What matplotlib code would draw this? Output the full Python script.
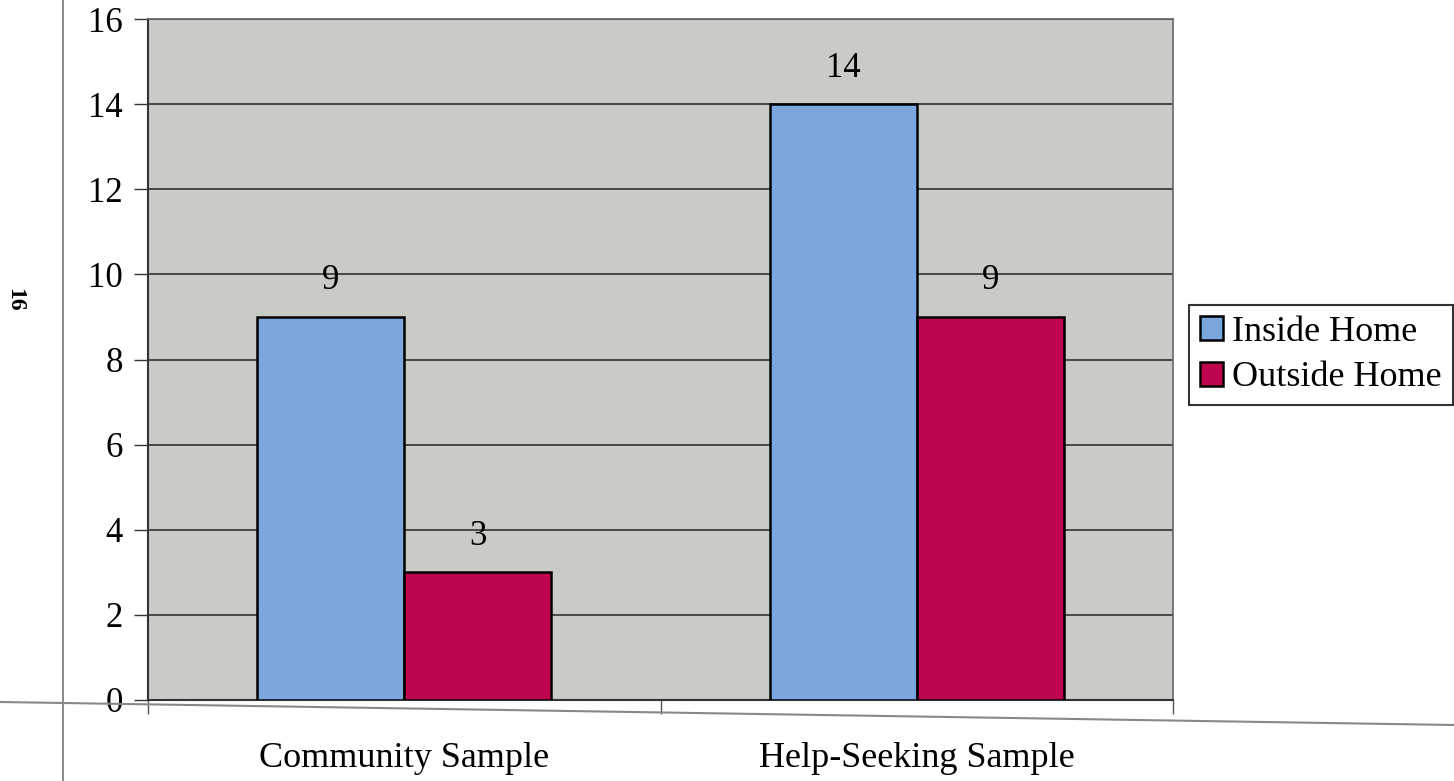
import matplotlib
matplotlib.use("Agg")
import matplotlib.pyplot as plt
from matplotlib.lines import Line2D
import numpy as np

categories = ["Community Sample", "Help-Seeking Sample"]
series_names = ["Inside Home", "Outside Home"]
inside_home = [9, 14]
outside_home = [3, 9]
y_ticks = [0, 2, 4, 6, 8, 10, 12, 14, 16]

blue = "#7BA6DE"
crimson = "#BE0650"
plot_bg = "#C9CBC7"

plt.rcParams["font.family"] = ["Liberation Serif", "DejaVu Serif"]

fig = plt.figure(figsize=(14.54, 7.81), dpi=100)
ax = fig.add_axes([148 / 1454, 1 - 700 / 781, (1173 - 148) / 1454, (700 - 19) / 781])
ax.set_facecolor(plot_bg)

x = np.arange(len(categories))
w = 0.287
bars_in = ax.bar(x - w / 2, inside_home, w, color=blue, edgecolor="black",
                 linewidth=1.8, label=series_names[0], zorder=3)
bars_out = ax.bar(x + w / 2, outside_home, w, color=crimson, edgecolor="black",
                  linewidth=1.8, label=series_names[1], zorder=3)

for bars, vals in ((bars_in, inside_home), (bars_out, outside_home)):
    for b, v in zip(bars, vals):
        ax.annotate(str(v), (b.get_x() + b.get_width() / 2, v),
                    xytext=(0, 14), textcoords="offset points",
                    ha="center", va="bottom", fontsize=25, zorder=4)

ax.set_xlim(-0.5, 1.5)
ax.set_ylim(0, 16)
ax.set_yticks(y_ticks)
ax.set_yticklabels([str(t) for t in y_ticks], fontsize=25)
ax.yaxis.grid(True, color="#333333", linewidth=1.2, zorder=1)
ax.set_axisbelow(True)

# category labels centered on groups, ticks at group boundaries
ax.set_xticks([-0.5, 0.5, 1.5])
ax.set_xticklabels([])
ax.set_xticks(x, minor=True)
ax.set_xticklabels(categories, minor=True, fontsize=26)
ax.tick_params(axis="x", which="minor", length=0, pad=30)
ax.tick_params(axis="x", which="major", length=10, width=1, color="#555555")
ax.tick_params(axis="y", length=10, width=1, pad=8, color="#333333")

for side in ("top", "right"):
    ax.spines[side].set_color("#666666")
    ax.spines[side].set_linewidth(1.2)
for side in ("left", "bottom"):
    ax.spines[side].set_color("#333333")
    ax.spines[side].set_linewidth(1.5)

leg = ax.legend(loc="center left", bbox_to_anchor=(1189 / 1454, 1 - 355 / 781),
                bbox_transform=fig.transFigure, fontsize=26, frameon=True,
                fancybox=False, edgecolor="black", handlelength=0.65,
                handleheight=0.65, handletextpad=0.25, borderpad=0.3,
                labelspacing=0.35, borderaxespad=0)
leg.get_frame().set_linewidth(1.5)

# page rules and page number
fig.add_artist(Line2D([63 / 1454, 63 / 1454], [0, 1], color="#777777", linewidth=1.2))
fig.add_artist(Line2D([0, 1], [1 - 702 / 781, 1 - 725 / 781], color="#888888", linewidth=1.5))
fig.text(15 / 1454, 1 - 300 / 781, "16", rotation=-90, fontsize=17,
         fontweight="bold", ha="center", va="center")

fig.savefig("out.png", dpi=100, facecolor="white")
